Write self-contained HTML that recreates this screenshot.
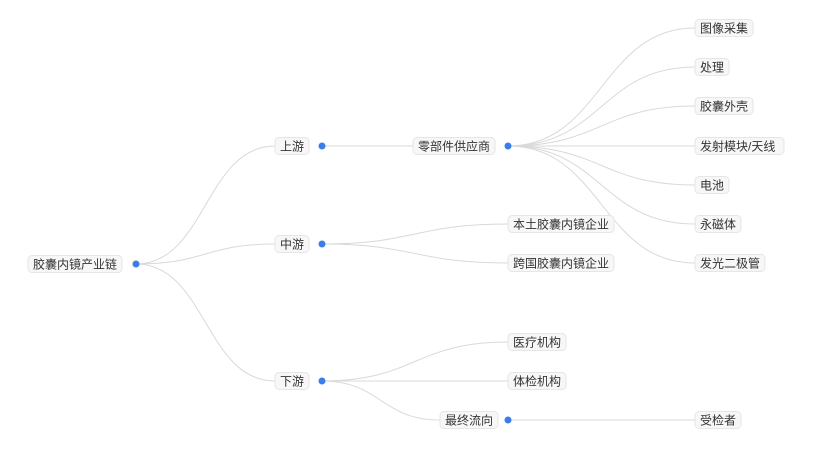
<!DOCTYPE html>
<html><head><meta charset="utf-8"><style>
html,body{margin:0;padding:0;background:#fff;width:834px;height:462px;overflow:hidden}
svg text{font-family:"Liberation Sans","Noto Sans CJK SC",sans-serif;font-size:12px;fill:#333}
</style></head><body>
<svg id="s" width="834" height="462" xmlns="http://www.w3.org/2000/svg"></svg>
<script>
const s=document.getElementById('s');
let edges='',nodes='';
function curve(x1,y1,x2,y2){const m=(x1+x2)/2;edges+=`<path d="M${x1} ${y1} C${m} ${y1} ${m} ${y2} ${x2} ${y2}" fill="none" stroke="#d9d9d9" stroke-width="1"/>`;}
function box(x,y,t){const w=t.length*12+10-(t.includes('/')?5:0);nodes+=`<rect x="${x}" y="${y-8.5}" width="${w}" height="17" rx="4" fill="#f7f7f7" stroke="#e6e6e6"/><text x="${x+5}" y="${y+4.5}">${t}</text>`;}
function dot(x,y){nodes+=`<circle cx="${x}" cy="${y}" r="3.5" fill="#3a7fe8"/>`;}
// root
box(28,264,'胶囊内镜产业链');dot(136,264);
[['上游',146],['中游',244],['下游',381]].forEach(([t,y])=>{curve(136,264,275,y);box(275,y,t);dot(322,y);});
curve(322,146,413,146);box(413,146,'零部件供应商');dot(508,146);
['图像采集','处理','胶囊外壳','发射模块/天线','电池','永磁体','发光二极管'].forEach((t,i)=>{const y=[28,67,106,146,185,224,263][i];curve(508,146,695,y);box(695,y,t);});
curve(322,244,508,224);box(508,224,'本土胶囊内镜企业');
curve(322,244,508,263);box(508,263,'跨国胶囊内镜企业');
curve(322,381,508,342);box(508,342,'医疗机构');
curve(322,381,508,381);box(508,381,'体检机构');
curve(322,381,440,420);box(440,420,'最终流向');dot(508,420);
curve(508,420,695,420);box(695,420,'受检者');
s.innerHTML=edges+nodes;
</script>
</body></html>
